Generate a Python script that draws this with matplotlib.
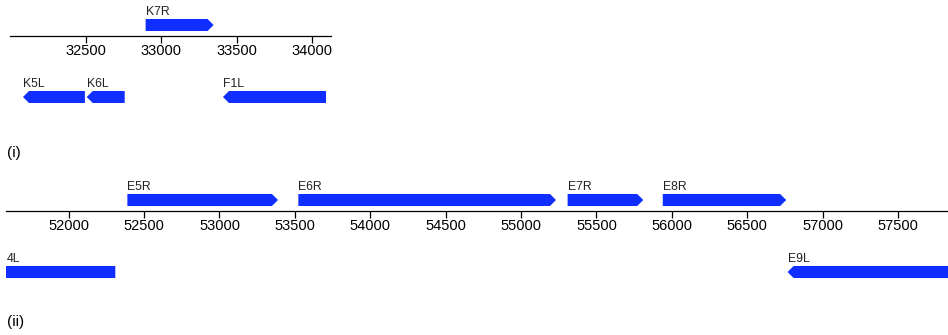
import matplotlib
matplotlib.use('Agg')
import matplotlib.pyplot as plt
from matplotlib.patches import Polygon

plt.rcParams['font.family'] = ['Liberation Sans', 'DejaVu Sans']

BLUE = '#0f2eff'

# region (i): genes around 32-34 kb
names_i = ['K5L', 'K6L', 'K7R', 'F1L']
starts_i = [32082, 32505, 32896, 33409]
ends_i = [32493, 32757, 33347, 34093]
strands_i = ['-', '-', '+', '-']
ticks_i = [32500, 33000, 33500, 34000]

# region (ii): genes around 52-58 kb
names_ii = ['4L', 'E5R', 'E6R', 'E7R', 'E8R', 'E9L']
starts_ii = [51530, 52389, 53523, 55309, 55940, 56768]
ends_ii = [52309, 53388, 55232, 55811, 56759, 58700]
strands_ii = ['-', '+', '+', '+', '+', '-']
ticks_ii = [52000, 52500, 53000, 53500, 54000, 54500, 55000,
            55500, 56000, 56500, 57000, 57500]

W, H = 948, 335
HEAD = 40      # arrow head length, bp
THICK = 12     # arrow thickness, px (1 y unit = 1 px)


def draw_gene(ax, start, end, strand, name):
    if strand == '+':
        yc = 11
        pts = [(start, yc - THICK / 2), (end - HEAD, yc - THICK / 2), (end, yc),
               (end - HEAD, yc + THICK / 2), (start, yc + THICK / 2)]
    else:
        yc = -61
        pts = [(end, yc - THICK / 2), (start + HEAD, yc - THICK / 2), (start, yc),
               (start + HEAD, yc + THICK / 2), (end, yc + THICK / 2)]
    ax.add_patch(Polygon(pts, closed=True, facecolor=BLUE, edgecolor='none',
                         clip_on=True))
    # label sits at the left end of the gene, or at the view edge if cut off
    lx = max(start, ax.get_xlim()[0] + 3)
    ax.text(lx, yc + THICK / 2 + 1, name, fontsize=8.8, ha='left',
            va='bottom', color='#222222')


def make_track(fig, rect, xlim, ylim, names, starts, ends, strands, ticks):
    ax = fig.add_axes(rect)
    ax.set_xlim(*xlim)
    ax.set_ylim(*ylim)
    for s in ('top', 'left', 'right'):
        ax.spines[s].set_visible(False)
    ax.spines['bottom'].set_position(('data', 0))
    ax.spines['bottom'].set_linewidth(0.9)
    ax.set_yticks([])
    ax.set_xticks(ticks)
    ax.set_xticklabels([str(t) for t in ticks])
    ax.tick_params(axis='x', direction='out', length=5, width=0.9,
                   labelsize=10.5, pad=0.5, colors='black')
    ax.patch.set_visible(False)
    for name, s, e, st in zip(names, starts, ends, strands):
        draw_gene(ax, s, e, st, name)
    return ax


fig = plt.figure(figsize=(W / 100, H / 100), dpi=100)

make_track(fig, [10 / W, 1 - 110 / H, 321 / W, 110 / H], (31996, 34126), (-74, 36),
           names_i, starts_i, ends_i, strands_i, ticks_i)
make_track(fig, [6 / W, 45 / H, 942 / W, 120 / H], (51584, 57832), (-79, 41),
           names_ii, starts_ii, ends_ii, strands_ii, ticks_ii)

fig.text(7 / W, 1 - 153 / H, '(i)', fontsize=11, va='center', ha='left')
fig.text(7 / W, 1 - 322 / H, '(ii)', fontsize=11, va='center', ha='left')

fig.savefig('out.png', dpi=100)
